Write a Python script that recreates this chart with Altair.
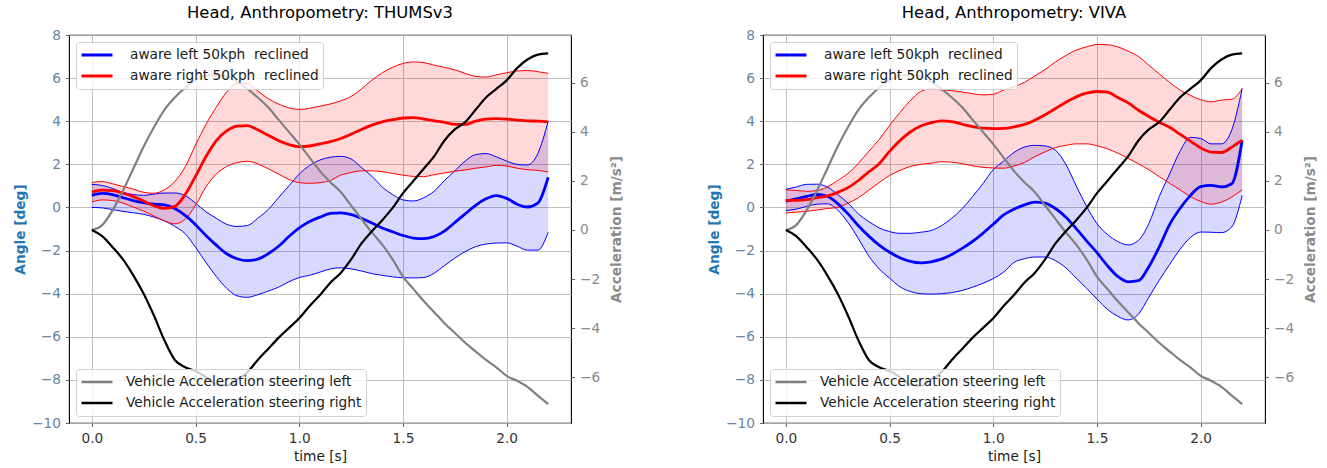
import altair as alt
import pandas as pd

# ---------------- data ----------------
time_s = [0.0, 0.05, 0.1, 0.15, 0.2, 0.25, 0.3, 0.35, 0.4, 0.45,
          0.5, 0.55, 0.6, 0.65, 0.7, 0.75, 0.8, 0.85, 0.9, 0.95,
          1.0, 1.05, 1.1, 1.15, 1.2, 1.25, 1.3, 1.35, 1.4, 1.45,
          1.5, 1.55, 1.6, 1.65, 1.7, 1.75, 1.8, 1.85, 1.9, 1.95,
          2.0, 2.05, 2.1, 2.15, 2.2]

thums_blue_mean = [0.56, 0.65, 0.6, 0.45, 0.32, 0.22, 0.15, 0.12, -0.05, -0.37,
                   -0.8, -1.3, -1.75, -2.15, -2.38, -2.47, -2.4, -2.15, -1.8, -1.35,
                   -0.95, -0.65, -0.45, -0.28, -0.25, -0.33, -0.5, -0.72, -0.95, -1.13,
                   -1.3, -1.42, -1.45, -1.35, -1.1, -0.7, -0.3, 0.1, 0.4, 0.55,
                   0.42, 0.15, 0.02, 0.2, 1.4]
thums_blue_hi = [1.07, 1.02, 0.88, 0.7, 0.6, 0.56, 0.62, 0.67, 0.67, 0.55,
                 0.2, -0.2, -0.5, -0.78, -0.88, -0.84, -0.5, -0.1, 0.45, 1.0,
                 1.55, 1.95, 2.2, 2.33, 2.37, 2.25, 1.85, 1.45, 0.95, 0.6,
                 0.35, 0.3, 0.45, 0.75, 1.25, 1.7, 2.15, 2.45, 2.5, 2.35,
                 2.15, 2.0, 1.97, 2.5, 4.0]
thums_blue_lo = [0.0, -0.02, -0.1, -0.18, -0.25, -0.32, -0.45, -0.62, -0.88, -1.22,
                 -1.85, -2.55, -3.2, -3.75, -4.1, -4.17, -4.05, -3.88, -3.7, -3.45,
                 -3.25, -3.15, -3.0, -2.85, -2.8, -2.85, -2.95, -3.07, -3.15, -3.22,
                 -3.26, -3.27, -3.25, -3.05, -2.7, -2.35, -2.05, -1.82, -1.7, -1.65,
                 -1.64, -1.8, -1.98, -1.98, -1.15]
thums_red_mean = [0.71, 0.8, 0.78, 0.66, 0.5, 0.3, 0.08, -0.04, 0.05, 0.6,
                  1.45, 2.35, 3.1, 3.55, 3.77, 3.8, 3.6, 3.35, 3.1, 2.92,
                  2.82, 2.85, 2.95, 3.05, 3.2, 3.4, 3.62, 3.82, 3.97, 4.07,
                  4.15, 4.17, 4.1, 4.02, 3.95, 3.85, 3.85, 4.0, 4.1, 4.12,
                  4.1, 4.05, 4.02, 4.0, 3.97]
thums_red_hi = [1.16, 1.2, 1.1, 0.97, 0.85, 0.7, 0.66, 0.82, 1.2, 1.88,
                2.9, 3.85, 4.65, 5.35, 5.75, 5.75, 5.4, 5.05, 4.8, 4.62,
                4.55, 4.6, 4.7, 4.8, 4.95, 5.15, 5.5, 5.9, 6.25, 6.5,
                6.68, 6.75, 6.72, 6.6, 6.5, 6.38, 6.22, 6.08, 6.05, 6.15,
                6.25, 6.33, 6.35, 6.3, 6.22]
thums_red_lo = [0.25, 0.35, 0.32, 0.2, 0.02, -0.17, -0.4, -0.62, -0.76, -0.55,
                0.1, 0.95, 1.55, 1.9, 2.08, 2.14, 2.02, 1.8, 1.55, 1.3,
                1.15, 1.12, 1.15, 1.25, 1.5, 1.62, 1.7, 1.7, 1.66, 1.58,
                1.5, 1.44, 1.43, 1.52, 1.6, 1.68, 1.74, 1.82, 1.88, 1.95,
                1.92, 1.82, 1.75, 1.72, 1.64]

viva_blue_mean = [0.29, 0.4, 0.51, 0.6, 0.52, 0.18, -0.3, -0.85, -1.33, -1.75,
                  -2.08, -2.33, -2.5, -2.57, -2.52, -2.4, -2.18, -1.9, -1.58, -1.2,
                  -0.78, -0.35, -0.08, 0.12, 0.25, 0.2, -0.05, -0.45, -0.98, -1.55,
                  -2.1, -2.7, -3.2, -3.45, -3.4, -2.75, -1.84, -0.8, -0.05, 0.55,
                  0.97, 1.02, 0.95, 1.1, 3.12]
viva_blue_hi = [0.84, 0.95, 1.07, 1.08, 0.95, 0.6, 0.2, -0.3, -0.65, -0.95,
                -1.12, -1.2, -1.2, -1.15, -1.07, -0.85, -0.5, -0.06, 0.5, 1.1,
                1.75, 2.15, 2.55, 2.8, 2.88, 2.85, 2.65, 2.0, 1.0, 0.05,
                -0.75, -1.25, -1.58, -1.74, -1.53, -0.75, 0.5, 1.55, 2.6, 3.25,
                3.2, 2.95, 2.95, 3.6, 5.52]
viva_blue_lo = [-0.14, -0.08, 0.05, 0.15, 0.17, -0.12, -0.7, -1.45, -2.25, -2.85,
                -3.28, -3.68, -3.9, -4.0, -4.02, -4.0, -3.95, -3.85, -3.7, -3.52,
                -3.3, -3.0, -2.55, -2.38, -2.3, -2.3, -2.47, -2.8, -3.28, -3.75,
                -4.25, -4.72, -5.05, -5.22, -4.95, -4.17, -3.38, -2.65, -1.95, -1.4,
                -1.14, -1.15, -1.17, -0.9, 0.56]
viva_red_mean = [0.33, 0.33, 0.36, 0.45, 0.53, 0.7, 0.92, 1.25, 1.65, 2.03,
                 2.6, 3.1, 3.5, 3.78, 3.93, 4.02, 3.98, 3.86, 3.75, 3.68,
                 3.66, 3.67, 3.74, 3.85, 4.05, 4.3, 4.59, 4.88, 5.13, 5.3,
                 5.38, 5.35, 5.1, 4.85, 4.51, 4.22, 3.95, 3.72, 3.4, 3.08,
                 2.76, 2.57, 2.55, 2.8, 3.12]
viva_red_hi = [0.82, 0.79, 0.75, 0.78, 0.95, 1.25, 1.58, 2.05, 2.6, 3.15,
               3.8, 4.4, 4.95, 5.38, 5.5, 5.45, 5.42, 5.35, 5.28, 5.22,
               5.25, 5.45, 5.6, 5.8, 6.1, 6.4, 6.75, 7.05, 7.3, 7.45,
               7.56, 7.55, 7.45, 7.25, 7.0, 6.6, 6.2, 5.8, 5.45, 5.2,
               5.0, 4.9, 4.98, 5.02, 5.52]
viva_red_lo = [-0.26, -0.22, -0.18, -0.12, -0.05, 0.0, 0.2, 0.45, 0.8, 1.15,
               1.48, 1.72, 1.9, 2.0, 2.05, 2.12, 2.1, 2.03, 1.93, 1.86,
               1.83, 1.82, 1.92, 2.08, 2.35, 2.58, 2.78, 2.88, 2.95, 2.95,
               2.86, 2.72, 2.52, 2.28, 2.02, 1.75, 1.43, 1.12, 0.82, 0.5,
               0.28, 0.15, 0.25, 0.48, 0.82]

accel_steer_left = [0.0, 0.2, 0.8, 1.6, 2.5, 3.4, 4.2, 4.9, 5.4, 5.8,
                    6.1, 6.3, 6.3, 6.25, 6.05, 5.75, 5.4, 5.0, 4.5, 4.0,
                    3.5, 2.95, 2.4, 1.95, 1.55, 1.0, 0.45, -0.1, -0.6, -1.2,
                    -1.9, -2.4, -2.9, -3.35, -3.8, -4.2, -4.6, -4.95, -5.3, -5.6,
                    -5.95, -6.15, -6.4, -6.75, -7.1]
accel_steer_right = [0.0, -0.25, -0.7, -1.2, -1.85, -2.6, -3.5, -4.5, -5.3, -5.6,
                     -5.75, -6.0, -6.3, -6.35, -6.1, -5.8, -5.3, -4.85, -4.4, -4.0,
                     -3.6, -3.1, -2.65, -2.15, -1.75, -1.2, -0.55, -0.05, 0.4, 0.9,
                     1.5, 2.0, 2.5, 3.0, 3.65, 4.1, 4.4, 4.9, 5.4, 5.75,
                     6.1, 6.6, 6.95, 7.15, 7.2]

panel_titles = ["Head, Anthropometry: THUMSv3", "Head, Anthropometry: VIVA"]
angle_labels = ["aware left 50kph\u00a0 reclined\u00a0\u00a0\u00a0",
                "aware right 50kph\u00a0 reclined\u00a0\u00a0\u00a0"]
accel_labels = ["Vehicle Acceleration steering left", "Vehicle Acceleration steering right"]
x_ticks = [0.0, 0.5, 1.0, 1.5, 2.0]
angle_ticks = [-10, -8, -6, -4, -2, 0, 2, 4, 6, 8]
accel_ticks = [-6, -4, -2, 0, 2, 4, 6]

FONT = "DejaVu Sans"
FS = 13.7

x_enc = alt.X("t:Q", scale=alt.Scale(domain=[-0.11, 2.31], nice=False, zero=False),
              axis=alt.Axis(values=x_ticks, format=".1f", title="time [s]", grid=True))
angle_scale = alt.Scale(domain=[-10, 8], nice=False, zero=False)
angle_axis = alt.Axis(values=angle_ticks, title="Angle [deg]", titleColor="#1f77b4",
                      titleFontWeight="bold", labelColor="#6585a3", grid=True,
                      titlePadding=4)
accel_axis = alt.Axis(values=accel_ticks, title="Acceleration [m/s²]", orient="right",
                      titleColor="#8a8a8a", titleFontWeight="bold", labelColor="#8a8a8a",
                      grid=False, titleAngle=270, titleBaseline="top", titlePadding=10)


def legend(orient, label_offset, stroke_w):
    return alt.Legend(orient=orient, title=None, offset=7,
                      symbolType="stroke", symbolSize=961, symbolStrokeWidth=stroke_w,
                      labelFontSize=FS, labelFont=FONT, labelColor="#1a1a1a",
                      labelLimit=500, labelOffset=label_offset, padding=4,
                      clipHeight=18, rowPadding=3,
                      fillColor="rgba(255,255,255,0.8)", strokeColor="#d0d0d0",
                      cornerRadius=3)


def panel(title, bmean, bhi, blo, rmean, rhi, rlo):
    wide = pd.DataFrame({"t": time_s, "bm": bmean, "bh": bhi, "bl": blo,
                         "rm": rmean, "rh": rhi, "rl": rlo})
    base = alt.Chart(wide)
    layers = []
    layers.append(base.mark_area(color="#0000ff", opacity=0.15, interpolate="monotone").encode(
        x=x_enc, y=alt.Y("bl:Q", scale=angle_scale, axis=angle_axis), y2="bh:Q"))
    layers.append(base.mark_area(color="#ff0000", opacity=0.15, interpolate="monotone").encode(
        x=x_enc, y=alt.Y("rl:Q", scale=angle_scale, axis=angle_axis), y2="rh:Q"))
    for col, c in [("bh", "#0000ff"), ("bl", "#0000ff"), ("rh", "#ff0000"), ("rl", "#ff0000")]:
        layers.append(base.mark_line(color=c, strokeWidth=1, interpolate="monotone").encode(
            x=x_enc, y=alt.Y(f"{col}:Q", scale=angle_scale, axis=angle_axis)))
    means = pd.DataFrame({
        "t": time_s + time_s,
        "angle": list(bmean) + list(rmean),
        "series": [angle_labels[0]] * len(time_s) + [angle_labels[1]] * len(time_s),
    })
    layers.append(alt.Chart(means).mark_line(strokeWidth=2.8, interpolate="monotone").encode(
        x=x_enc, y=alt.Y("angle:Q", scale=angle_scale, axis=angle_axis),
        stroke=alt.Stroke("series:N",
                          scale=alt.Scale(domain=angle_labels, range=["#0000ff", "#ff0000"]),
                          legend=legend("top-left", 16, 2.8)),
        detail="series:N"))
    angle_layer = alt.layer(*layers)

    acc = pd.DataFrame({
        "t": time_s + time_s,
        "acc": list(accel_steer_left) + list(accel_steer_right),
        "series": [accel_labels[0]] * len(time_s) + [accel_labels[1]] * len(time_s),
    })
    acc_layer = alt.Chart(acc).mark_line(strokeWidth=2.2, interpolate="monotone").encode(
        x=x_enc,
        y=alt.Y("acc:Q", scale=alt.Scale(domain=[-7.87, 7.95], nice=False, zero=False),
                axis=accel_axis),
        color=alt.Color("series:N",
                        scale=alt.Scale(domain=accel_labels, range=["#808080", "#000000"]),
                        legend=legend("bottom-left", 12, 2.5)),
        detail="series:N")
    return alt.layer(angle_layer, acc_layer).resolve_scale(y="independent").properties(
        width=502, height=388,
        title=alt.TitleParams(title, fontSize=16.4, fontWeight="normal", font=FONT,
                              color="#000000", offset=7))


p1 = panel(panel_titles[0], thums_blue_mean, thums_blue_hi, thums_blue_lo,
           thums_red_mean, thums_red_hi, thums_red_lo)
p2 = panel(panel_titles[1], viva_blue_mean, viva_blue_hi, viva_blue_lo,
           viva_red_mean, viva_red_hi, viva_red_lo)

chart = alt.hconcat(p1, p2, spacing=83).resolve_scale(
    stroke="independent", color="independent"
).properties(
    padding={"left": 13, "top": 4, "right": 5, "bottom": 5},
    background="white",
).configure_view(stroke="#000000", strokeWidth=1.1).configure_axis(
    labelFont=FONT, labelFontSize=FS, titleFont=FONT, titleFontSize=FS,
    titleFontWeight="normal", labelColor="#333333", titleColor="#1a1a1a",
    gridColor="#b8b8b8", gridWidth=0.9, domain=False, tickColor="#555555",
    tickSize=3.5, labelPadding=5, tickWidth=0.9
)

chart.save("out.html", embed_options={"renderer": "svg", "actions": False})
